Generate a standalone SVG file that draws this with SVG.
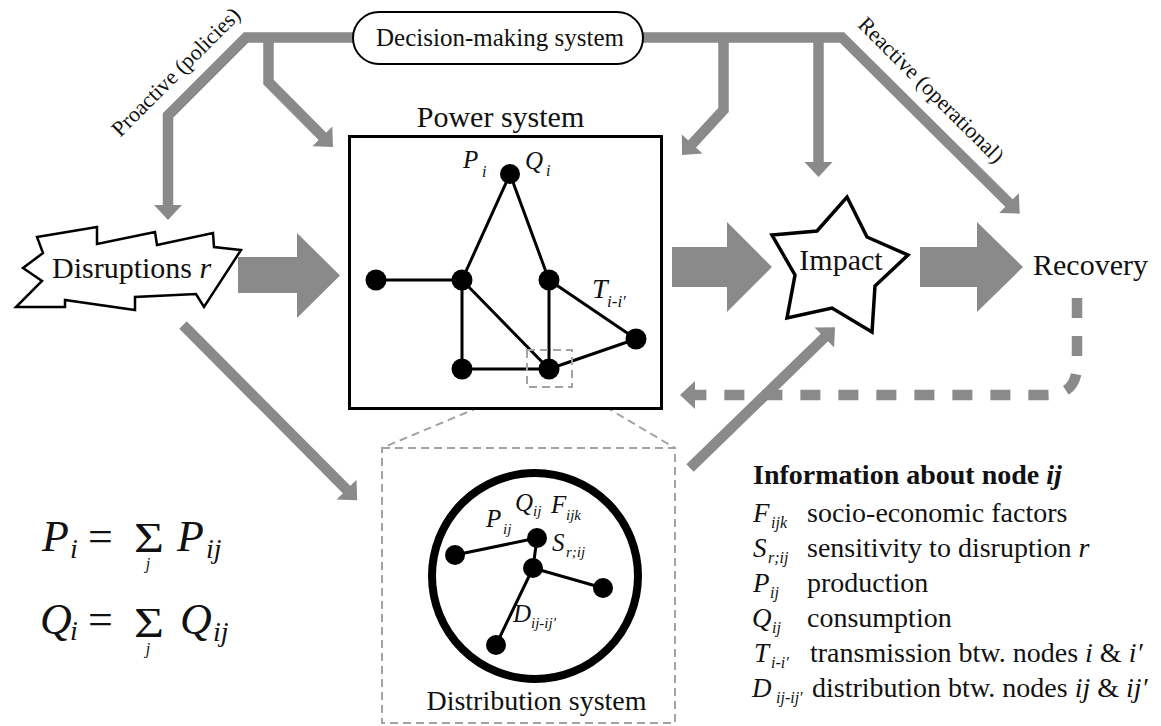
<svg xmlns="http://www.w3.org/2000/svg" width="1161" height="726" viewBox="0 0 1161 726" font-family="'Liberation Serif','Times New Roman',serif">
<defs>
<style>
text{font-family:"Liberation Serif","Times New Roman",serif;fill:#111}
.it{font-style:italic}
.flow{fill:none;stroke:#8a8a8a;stroke-width:10.5;stroke-linejoin:miter;stroke-miterlimit:10}
.big{fill:#8a8a8a}
.edge{stroke:#000;stroke-width:3;fill:none}
.nd{fill:#000}
.zoomline{fill:none;stroke:#a3a3a3;stroke-width:2;stroke-dasharray:8 5}
.lbl{font-size:25px}
.sub{font-size:16px}
.leg{font-size:28px}
.lsym{font-size:27px;font-style:italic}
.lsub{font-size:16px;font-style:italic}
.sig{font-size:42px}
</style>
<marker id="ah" markerUnits="userSpaceOnUse" markerWidth="32" markerHeight="32" viewBox="-16 -16 32 32" refX="-8" refY="0" orient="auto-start-reverse">
<path d="M-15,-14 L0,0 L-15,14 z" fill="#8a8a8a"/>
</marker>
</defs>
<rect width="1161" height="726" fill="#fff"/>

<g id="connectors">
<path class="flow" d="M168,212 L168,115.5 L246,37.5 L842,37.5 L1014,208" marker-start="url(#ah)" marker-end="url(#ah)"/>
<path class="flow" d="M268.5,37.5 L268.5,82 L327.3,141.3" marker-end="url(#ah)"/>
<path class="flow" d="M723.5,37.5 L723.5,110 L687.4,149.1" marker-end="url(#ah)"/>
<path class="flow" d="M818.5,37.5 L818.5,169" marker-end="url(#ah)"/>
<path class="flow" d="M183,325 L351.5,494.5" marker-end="url(#ah)"/>
<path class="flow" d="M690,468 L829.3,332.7" marker-end="url(#ah)"/>
<path class="flow" d="M1077,298 L1077,365 Q1077,395 1047,395 L688,395" stroke-dasharray="20 18" marker-end="url(#ah)"/>
<polygon class="big" points="238,257 297,257 297,233 340,275.5 297,318 297,293 238,293"/>
<polygon class="big" points="672,247 727,247 727,222 772,267 727,312 727,287 672,287"/>
<polygon class="big" points="920,247 977,247 977,222 1023,267 977,312 977,287 920,287"/>
<path class="zoomline" d="M527,387 L382,448 M572,387 L675,448"/>
</g>

<g id="decision">
<rect x="353" y="12" width="290" height="52" rx="26" ry="26" fill="#fff" stroke="#000" stroke-width="2"/>
<text x="500" y="46" font-size="25" text-anchor="middle">Decision-making system</text>
</g>
<text x="181" y="77" font-size="22" text-anchor="middle" transform="rotate(-45 181 77)">Proactive (policies)</text>
<text x="926" y="95" font-size="22" text-anchor="middle" transform="rotate(45 926 95)">Reactive (operational)</text>

<g id="disruptions">
<polygon points="37,237 97,227 97,244 155,232 157,245 213,233 214,247 241,250 204,307 196,294 135,297 135,310 65,300 65,307 16,307 42,281 23,268 43,253" fill="#fff" stroke="#000" stroke-width="2.5" stroke-linejoin="miter"/>
<text x="52" y="278" font-size="30">Disruptions <tspan class="it">r</tspan></text>
</g>

<g id="power-system">
<text x="500.5" y="127" font-size="30" text-anchor="middle">Power system</text>
<rect x="349.5" y="136.5" width="312" height="272" fill="#fff" stroke="#000" stroke-width="3"/>
<path class="edge" d="M510,174 L462,280 M510,174 L549,280 M376,280 L462,280 M462,280 L462,369 M462,280 L549,369 M462,369 L549,369 M549,280 L549,369 M549,280 L636,339 M636,339 L549,369"/>
<circle class="nd" cx="510" cy="174" r="10"/>
<circle class="nd" cx="376" cy="280" r="10.5"/>
<circle class="nd" cx="462" cy="280" r="10.5"/>
<circle class="nd" cx="549" cy="280" r="10.5"/>
<circle class="nd" cx="636" cy="339" r="10.5"/>
<circle class="nd" cx="462" cy="369" r="10.5"/>
<circle class="nd" cx="549" cy="369" r="10.5"/>
<text x="463" y="168" font-size="25" class="it">P</text>
<text x="482" y="177" class="sub it">i</text>
<text x="525" y="169" font-size="25" class="it">Q</text>
<text x="546" y="176" class="sub it">i</text>
<text x="592" y="298" font-size="28" class="it">T</text>
<text x="607" y="307" font-size="17" class="it">i-i′</text>
<rect x="527" y="350" width="45" height="37" class="zoomline"/>
</g>

<g id="impact">
<polygon points="847,197 867,237 908,255 875,286 872,332 832,308 787,318 795,275 772,235 817,231" fill="#fff" stroke="#000" stroke-width="3.5" stroke-linejoin="miter"/>
<text x="841" y="270" font-size="30" text-anchor="middle">Impact</text>
</g>

<g id="recovery">
<text x="1033" y="275" font-size="30">Recovery</text>
</g>

<g id="distribution">
<rect x="382" y="448" width="293" height="275" class="zoomline"/>
<circle cx="535" cy="576" r="103" fill="#fff" stroke="#000" stroke-width="8"/>
<path class="edge" d="M455,555 L537,538 M537,538 L533,568 M533,568 L603,588 M533,568 L496,645"/>
<circle class="nd" cx="537" cy="538" r="10"/>
<circle class="nd" cx="533" cy="568" r="10"/>
<circle class="nd" cx="455" cy="555" r="10"/>
<circle class="nd" cx="603" cy="588" r="10"/>
<circle class="nd" cx="496" cy="645" r="10"/>
<text x="515" y="511" class="lbl it">Q</text>
<text x="533" y="516" font-size="15" class="it">ij</text>
<text x="551" y="513" class="lbl it">F</text>
<text x="566" y="520" font-size="15" class="it">ijk</text>
<text x="486" y="527" class="lbl it">P</text>
<text x="503" y="534" font-size="15" class="it">ij</text>
<text x="552" y="551" class="lbl it">S</text>
<text x="566" y="557" font-size="15" class="it">r;ij</text>
<text x="513" y="622" class="lbl it">D</text>
<text x="531" y="628" font-size="15" class="it">ij-ij′</text>
<text x="536.5" y="710" font-size="28" text-anchor="middle">Distribution system</text>
</g>

<g id="equations">
<text x="42" y="551" font-size="44" class="it">P</text>
<text x="70" y="558" font-size="28" class="it">i</text>
<text x="88" y="551" font-size="44">=</text>
<text x="134" y="552" class="sig" textLength="30" lengthAdjust="spacingAndGlyphs">Σ</text>
<text x="148" y="569" font-size="16" text-anchor="middle" class="it">j</text>
<text x="177" y="551" font-size="44" class="it">P</text>
<text x="206" y="558" font-size="28" class="it">ij</text>
<text x="40" y="634" font-size="44" class="it">Q</text>
<text x="70" y="640" font-size="28" class="it">i</text>
<text x="88" y="634" font-size="44">=</text>
<text x="134" y="637" class="sig" textLength="30" lengthAdjust="spacingAndGlyphs">Σ</text>
<text x="148" y="654" font-size="16" text-anchor="middle" class="it">j</text>
<text x="180" y="634" font-size="44" class="it">Q</text>
<text x="213" y="641" font-size="28" class="it">ij</text>
</g>

<g id="legend">
<text x="753" y="484" class="leg" font-weight="bold">Information about node <tspan font-style="italic">ij</tspan></text>
<text x="753" y="522" class="lsym">F</text><text x="771" y="528" class="lsub">ijk</text>
<text x="807" y="522" class="leg">socio-economic factors</text>
<text x="753" y="557" class="lsym">S</text><text x="768" y="563" class="lsub">r;ij</text>
<text x="807" y="557" class="leg">sensitivity to disruption <tspan class="it">r</tspan></text>
<text x="753" y="592" class="lsym">P</text><text x="770" y="598" class="lsub">ij</text>
<text x="807" y="592" class="leg">production</text>
<text x="752" y="627" class="lsym">Q</text><text x="772" y="633" class="lsub">ij</text>
<text x="807" y="627" class="leg">consumption</text>
<text x="754" y="662" class="lsym">T</text><text x="771" y="668" class="lsub">i-i′</text>
<text x="810" y="662" class="leg">transmission btw. nodes <tspan class="it">i</tspan> &amp; <tspan class="it">i′</tspan></text>
<text x="752" y="697" class="lsym">D</text><text x="776" y="703" class="lsub">ij-ij′</text>
<text x="812" y="697" class="leg">distribution btw. nodes <tspan class="it">ij</tspan> &amp; <tspan class="it">ij′</tspan></text>
</g>
</svg>
